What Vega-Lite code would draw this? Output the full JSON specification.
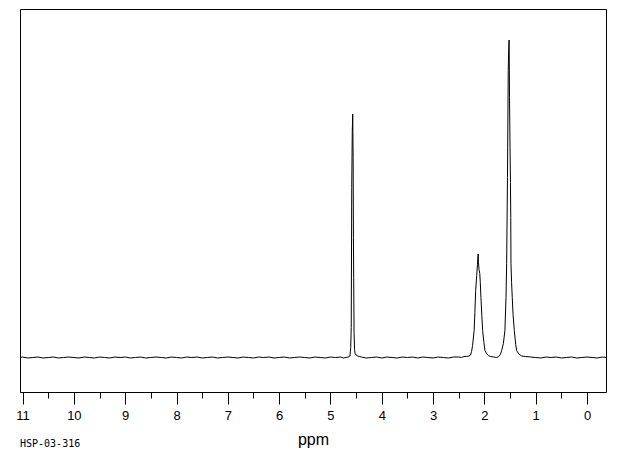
{
  "$schema": "https://vega.github.io/schema/vega-lite/v6.json",
  "width": 586,
  "height": 383,
  "autosize": {"type": "none"},
  "padding": {"left": 20, "top": 9, "right": 14, "bottom": 63},
  "background": "white",
  "config": {"view": {"stroke": "black", "strokeWidth": 1}},
  "title": {"text": "HSP-03-316", "orient": "bottom", "anchor": "start", "frame": "group", "font": "DejaVu Sans Mono", "fontSize": 10, "fontWeight": "normal", "color": "black", "offset": -8},
  "data": {"values": [
    {"ppm": 11.05, "i": 0}, {"ppm": 11.0, "i": 0.5}, {"ppm": 10.9, "i": -0.5}, {"ppm": 10.8, "i": 0}, {"ppm": 10.7, "i": 0.5}, {"ppm": 10.6, "i": -0.5}, {"ppm": 10.5, "i": 0}, {"ppm": 10.4, "i": 0.5}, {"ppm": 10.3, "i": -0.5}, {"ppm": 10.2, "i": 0}, {"ppm": 10.1, "i": 0.5}, {"ppm": 10.0, "i": 0},
    {"ppm": 9.9, "i": -0.5}, {"ppm": 9.8, "i": 0.5}, {"ppm": 9.7, "i": 0}, {"ppm": 9.6, "i": -0.5}, {"ppm": 9.5, "i": 0.5}, {"ppm": 9.4, "i": 0}, {"ppm": 9.3, "i": -0.5}, {"ppm": 9.2, "i": 0.5}, {"ppm": 9.1, "i": 0}, {"ppm": 9.0, "i": 0.5},
    {"ppm": 8.9, "i": -0.5}, {"ppm": 8.8, "i": 0}, {"ppm": 8.7, "i": 0.5}, {"ppm": 8.6, "i": -0.5}, {"ppm": 8.5, "i": 0}, {"ppm": 8.4, "i": 0.5}, {"ppm": 8.3, "i": 0}, {"ppm": 8.2, "i": -0.5}, {"ppm": 8.1, "i": 0.5}, {"ppm": 8.0, "i": 0},
    {"ppm": 7.9, "i": -0.5}, {"ppm": 7.8, "i": 0.5}, {"ppm": 7.7, "i": 0}, {"ppm": 7.6, "i": 0.5}, {"ppm": 7.5, "i": -0.5}, {"ppm": 7.4, "i": 0}, {"ppm": 7.3, "i": 0.5}, {"ppm": 7.2, "i": -0.5}, {"ppm": 7.1, "i": 0}, {"ppm": 7.0, "i": 0.5},
    {"ppm": 6.9, "i": 0}, {"ppm": 6.8, "i": -0.5}, {"ppm": 6.7, "i": 0.5}, {"ppm": 6.6, "i": 0}, {"ppm": 6.5, "i": -0.5}, {"ppm": 6.4, "i": 0.5}, {"ppm": 6.3, "i": 0}, {"ppm": 6.2, "i": 0.5}, {"ppm": 6.1, "i": -0.5}, {"ppm": 6.0, "i": 0},
    {"ppm": 5.9, "i": 0.5}, {"ppm": 5.8, "i": -0.5}, {"ppm": 5.7, "i": 0}, {"ppm": 5.6, "i": 0.5}, {"ppm": 5.5, "i": 0}, {"ppm": 5.4, "i": -0.5}, {"ppm": 5.3, "i": 0.5}, {"ppm": 5.2, "i": 0}, {"ppm": 5.1, "i": -0.5}, {"ppm": 5.0, "i": 0.5},
    {"ppm": 4.9, "i": 0}, {"ppm": 4.8, "i": 0.5}, {"ppm": 4.75, "i": -0.5}, {"ppm": 4.7, "i": 0}, {"ppm": 4.65, "i": 0.5},
    {"ppm": 4.62, "i": 1.5}, {"ppm": 4.605, "i": 10}, {"ppm": 4.595, "i": 30}, {"ppm": 4.585, "i": 170}, {"ppm": 4.575, "i": 225}, {"ppm": 4.566, "i": 243.5}, {"ppm": 4.558, "i": 200}, {"ppm": 4.552, "i": 120}, {"ppm": 4.547, "i": 80}, {"ppm": 4.54, "i": 25}, {"ppm": 4.53, "i": 8}, {"ppm": 4.52, "i": 4}, {"ppm": 4.5, "i": 2.5}, {"ppm": 4.47, "i": 1.5}, {"ppm": 4.43, "i": 1}, {"ppm": 4.4, "i": 0.5},
    {"ppm": 4.3, "i": -0.5}, {"ppm": 4.2, "i": 0}, {"ppm": 4.1, "i": 0.5}, {"ppm": 4.0, "i": -0.5}, {"ppm": 3.9, "i": 0.5}, {"ppm": 3.8, "i": 0}, {"ppm": 3.7, "i": -0.5}, {"ppm": 3.6, "i": 0.5}, {"ppm": 3.5, "i": 0}, {"ppm": 3.4, "i": 0.5}, {"ppm": 3.3, "i": -0.5}, {"ppm": 3.2, "i": 0.5}, {"ppm": 3.1, "i": 0}, {"ppm": 3.0, "i": -0.5},
    {"ppm": 2.9, "i": 0.5}, {"ppm": 2.8, "i": 0}, {"ppm": 2.7, "i": -0.5}, {"ppm": 2.6, "i": 0.5}, {"ppm": 2.5, "i": 0.5}, {"ppm": 2.45, "i": 0}, {"ppm": 2.4, "i": 1}, {"ppm": 2.35, "i": 1}, {"ppm": 2.3, "i": 1.5}, {"ppm": 2.27, "i": 2.5}, {"ppm": 2.25, "i": 6}, {"ppm": 2.23, "i": 12}, {"ppm": 2.2, "i": 27}, {"ppm": 2.185, "i": 45}, {"ppm": 2.17, "i": 67}, {"ppm": 2.15, "i": 82}, {"ppm": 2.135, "i": 93}, {"ppm": 2.122, "i": 103.5}, {"ppm": 2.115, "i": 95}, {"ppm": 2.105, "i": 88}, {"ppm": 2.09, "i": 84}, {"ppm": 2.08, "i": 75}, {"ppm": 2.067, "i": 60}, {"ppm": 2.05, "i": 42}, {"ppm": 2.034, "i": 27}, {"ppm": 2.01, "i": 15},
    {"ppm": 1.989, "i": 7}, {"ppm": 1.96, "i": 4}, {"ppm": 1.924, "i": 2}, {"ppm": 1.88, "i": 1}, {"ppm": 1.82, "i": 0.5}, {"ppm": 1.76, "i": 0}, {"ppm": 1.72, "i": 1}, {"ppm": 1.69, "i": 3}, {"ppm": 1.663, "i": 7}, {"ppm": 1.63, "i": 14}, {"ppm": 1.6, "i": 27}, {"ppm": 1.579, "i": 60}, {"ppm": 1.566, "i": 94}, {"ppm": 1.55, "i": 180}, {"ppm": 1.535, "i": 287}, {"ppm": 1.525, "i": 310}, {"ppm": 1.518, "i": 317.5}, {"ppm": 1.51, "i": 260}, {"ppm": 1.5, "i": 210}, {"ppm": 1.492, "i": 175}, {"ppm": 1.486, "i": 140}, {"ppm": 1.482, "i": 94}, {"ppm": 1.47, "i": 75}, {"ppm": 1.457, "i": 60}, {"ppm": 1.44, "i": 42}, {"ppm": 1.417, "i": 27}, {"ppm": 1.39, "i": 13}, {"ppm": 1.371, "i": 7}, {"ppm": 1.33, "i": 3.5}, {"ppm": 1.273, "i": 1.5}, {"ppm": 1.2, "i": 1}, {"ppm": 1.1, "i": 0.5}, {"ppm": 1.0, "i": 0},
    {"ppm": 0.9, "i": -0.5}, {"ppm": 0.8, "i": 0.5}, {"ppm": 0.7, "i": 0}, {"ppm": 0.6, "i": 0.5}, {"ppm": 0.5, "i": -0.5}, {"ppm": 0.4, "i": 0}, {"ppm": 0.3, "i": 0.5}, {"ppm": 0.2, "i": -0.5}, {"ppm": 0.1, "i": 0}, {"ppm": 0.0, "i": 0.5}, {"ppm": -0.1, "i": 0}, {"ppm": -0.2, "i": -0.5}, {"ppm": -0.3, "i": 0.5}, {"ppm": -0.37, "i": 0}
  ]},
  "mark": {"type": "line", "color": "black", "strokeWidth": 1, "clip": true},
  "encoding": {
    "x": {
      "field": "ppm", "type": "quantitative",
      "scale": {"domain": [-0.37, 11.05], "reverse": true, "nice": false, "zero": false},
      "axis": {
        "values": [0, 0.5, 1, 1.5, 2, 2.5, 3, 3.5, 4, 4.5, 5, 5.5, 6, 6.5, 7, 7.5, 8, 8.5, 9, 9.5, 10, 10.5, 11],
        "tickSize": {"condition": {"test": "datum.value % 1 === 0", "value": 12}, "value": 6},
        "tickColor": "black", "tickWidth": 1,
        "labelExpr": "datum.value % 1 === 0 ? format(datum.value, 'd') : ''",
        "labelFont": "Liberation Sans", "labelFontSize": 13, "labelColor": "black",
        "labelPadding": 5, "labelFlush": false, "labelOverlap": false,
        "grid": false, "domain": false,
        "title": "ppm", "titleFont": "Liberation Sans", "titleFontSize": 16, "titleFontWeight": "normal", "titleColor": "black", "titlePadding": 9
      }
    },
    "y": {
      "field": "i", "type": "quantitative",
      "scale": {"domain": [-34.5, 348.5], "nice": false, "zero": false},
      "axis": null
    },
    "order": {"field": "ppm", "sort": "descending"}
  }
}
